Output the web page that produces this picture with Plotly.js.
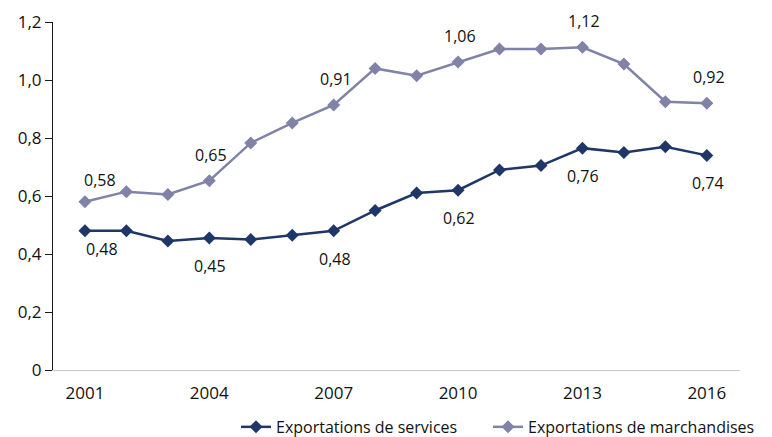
<!DOCTYPE html>
<html>
<head>
<meta charset="utf-8">
<script src="https://cdn.plot.ly/plotly-3.0.1.min.js"></script>
<style>html,body{margin:0;padding:0;background:#fff;}#chart{width:772px;height:437px;}</style>
</head>
<body>
<div id="chart"></div>
<script>
const years = [2001,2002,2003,2004,2005,2006,2007,2008,2009,2010,2011,2012,2013,2014,2015,2016];
const services = [0.48,0.48,0.445,0.455,0.45,0.465,0.48,0.55,0.61,0.62,0.69,0.705,0.765,0.75,0.77,0.74];
const merchandises = [0.58,0.615,0.605,0.653,0.783,0.852,0.914,1.04,1.015,1.062,1.107,1.107,1.113,1.055,0.925,0.92];
const labelYears = [2001,2004,2007,2010,2013,2016];
const servicesLabels = ["0,48","0,45","0,48","0,62","0,76","0,74"];
const merchLabels = ["0,58","0,65","0,91","1,06","1,12","0,92"];
const seriesNames = ["Exportations de services","Exportations de marchandises"];
const tickVals = [0,0.2,0.4,0.6,0.8,1.0,1.2];
const tickText = ["0","0,2","0,4","0,6","0,8","1,0","1,2"];
const xTicks = [2001,2004,2007,2010,2013,2016];

const darkC = "#1e3768";
const lightC = "#8082a8";
const font = "Open Sans, Lato, sans-serif";
const txtC = "#111111";

const traces = [
  {x: years, y: services, name: seriesNames[0], type: "scatter", mode: "lines+markers", legend: "legend",
   line: {color: darkC, width: 2.5}, marker: {symbol: "diamond", size: 10, color: darkC}},
  {x: years, y: merchandises, name: seriesNames[1], type: "scatter", mode: "lines+markers", legend: "legend2",
   line: {color: lightC, width: 2.5}, marker: {symbol: "diamond", size: 10, color: lightC}}
];

const annotations = [];
labelYears.forEach((yr, i) => {
  const idx = years.indexOf(yr);
  const first = i === 0;
  annotations.push({x: yr, y: merchandises[idx], text: merchLabels[i], showarrow: false,
    xshift: first ? 15 : 2, yshift: first ? 22 : 26, font: {family: font, size: 16, color: txtC}});
  annotations.push({x: yr, y: services[idx], text: servicesLabels[i], showarrow: false,
    xshift: first ? 17 : 1, yshift: first ? -18 : -28, font: {family: font, size: 16, color: txtC}});
});

const legendBase = {orientation: "h", xref: "container", yref: "container", xanchor: "left",
  y: 0.023, yanchor: "middle",
  font: {family: font, size: 16, color: txtC}, itemwidth: 30, bgcolor: "rgba(0,0,0,0)"};

const layout = {
  width: 772, height: 437,
  margin: {l: 53, r: 32, t: 22, b: 67},
  paper_bgcolor: "#fff", plot_bgcolor: "#fff",
  font: {family: font, size: 16, color: txtC},
  showlegend: true,
  legend: Object.assign({}, legendBase, {x: 236 / 772}),
  legend2: Object.assign({}, legendBase, {x: 488 / 772}),
  xaxis: {range: [2000.23, 2016.8], tickvals: xTicks, ticktext: xTicks.map(String),
    showgrid: false, zeroline: false, showline: true, linecolor: "#c8c8c8", linewidth: 1,
    ticks: "", ticklabelstandoff: 8, tickfont: {family: font, size: 17, color: txtC}},
  yaxis: {range: [0, 1.2], tickvals: tickVals, ticktext: tickText,
    showgrid: false, zeroline: false, showline: true, linecolor: "#1a1a1a", linewidth: 1,
    ticks: "outside", ticklen: 7, tickcolor: "#1a1a1a", tickfont: {family: font, size: 17, color: txtC}},
  annotations: annotations
};

Plotly.newPlot("chart", traces, layout, {displayModeBar: false, staticPlot: true});
</script>
</body>
</html>
